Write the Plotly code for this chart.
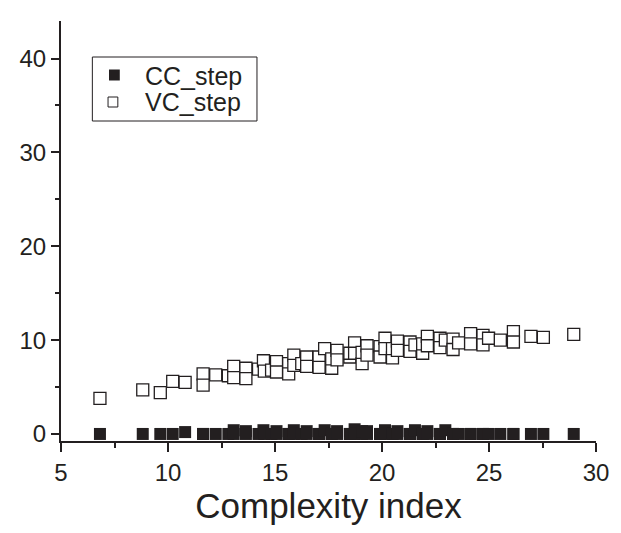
import plotly.graph_objects as go

# VC_step data (complexity index, value)
vc_x = [6.82, 8.82, 9.64, 10.22, 10.80, 11.64, 11.64, 12.23, 12.82, 13.07, 13.07,
        13.64, 13.64, 14.23, 14.46, 14.50, 14.84, 15.07, 15.07, 15.64, 15.64,
        15.88, 15.88, 16.25, 16.48, 16.48, 17.06, 17.06, 17.32, 17.65, 17.65,
        17.90, 17.90, 18.50, 18.50, 18.72, 18.72, 19.07, 19.07, 19.30, 19.30,
        19.91, 19.91, 20.14, 20.14, 20.49, 20.49, 20.72, 20.72, 21.31, 21.31,
        21.54, 21.90, 21.90, 22.12, 22.12, 22.71, 22.71, 22.96, 23.32, 23.32,
        23.58, 24.14, 24.14, 24.72, 24.72, 24.98, 25.53, 26.14, 26.14, 26.96,
        27.54, 28.96]
vc_y = [3.8, 4.7, 4.4, 5.6, 5.5, 6.4, 5.2, 6.3, 6.2, 7.2, 6.0,
        7.0, 5.9, 6.9, 7.8, 6.7, 6.8, 7.7, 6.6, 7.5, 6.4,
        8.4, 7.3, 7.5, 8.2, 7.2, 8.2, 7.1, 9.1, 7.0, 8.0,
        8.9, 7.9, 8.2, 8.6, 9.7, 8.6, 7.5, 8.7, 9.4, 8.4,
        9.3, 8.2, 10.2, 9.1, 8.1, 9.1, 9.9, 8.9, 9.8, 8.8,
        9.5, 8.6, 9.6, 10.4, 9.4, 10.2, 9.2, 10.0, 10.1, 9.0,
        9.7, 10.7, 9.6, 10.5, 9.5, 10.2, 10.0, 10.9, 9.8, 10.4,
        10.3, 10.6]

# CC_step data (complexity index, value)
cc_x = vc_x
cc_y = [0.0, 0.0, 0.0, 0.0, 0.2, 0.0, 0.0, 0.0, 0.0, 0.4, 0.0,
        0.3, 0.0, 0.0, 0.4, 0.0, 0.0, 0.3, 0.0, 0.0, 0.0,
        0.4, 0.0, 0.0, 0.3, 0.0, 0.0, 0.0, 0.4, 0.0, 0.0,
        0.3, 0.0, 0.0, 0.0, 0.5, 0.0, 0.0, 0.3, 0.3, 0.0,
        0.0, 0.0, 0.4, 0.0, 0.0, 0.0, 0.3, 0.0, 0.0, 0.0,
        0.4, 0.0, 0.0, 0.3, 0.0, 0.0, 0.0, 0.4, 0.0, 0.0,
        0.0, 0.0, 0.0, 0.0, 0.0, 0.0, 0.0, 0.0, 0.0, 0.0,
        0.0, 0.0]

series_names = ["CC_step", "VC_step"]
x_ticks = [5, 10, 15, 20, 25, 30]
y_ticks = [0, 10, 20, 30, 40]

ink = "#231f20"
font_family = "Liberation Sans, Arial, sans-serif"

W, H = 621, 533
ML, MR, MT, MB = 61, 14, 21, 92
PW, PH = W - ML - MR, H - MT - MB


def px(xp):
    return (xp - ML) / PW


def py(yp):
    return (H - MB - yp) / PH


fig = go.Figure()
fig.add_trace(go.Scatter(
    x=cc_x, y=cc_y, mode="markers", name=series_names[0], showlegend=False,
    marker=dict(symbol="square", size=12, color=ink, line=dict(width=0))))
fig.add_trace(go.Scatter(
    x=vc_x, y=vc_y, mode="markers", name=series_names[1], showlegend=False,
    marker=dict(symbol="square", size=12, color="white", line=dict(width=1.3, color=ink))))

# Legend drawn as a framed box with sample markers and real text labels
shapes = [
    dict(type="rect", xref="paper", yref="paper",
         x0=px(93), x1=px(261), y0=py(121), y1=py(57),
         line=dict(color=ink, width=1), fillcolor="white", layer="above"),
    dict(type="rect", xref="paper", yref="paper",
         x0=px(110), x1=px(121), y0=py(80.5), y1=py(69.5),
         line=dict(width=0), fillcolor=ink, layer="above"),
    dict(type="rect", xref="paper", yref="paper",
         x0=px(109), x1=px(119), y0=py(107), y1=py(97),
         line=dict(color=ink, width=1), fillcolor="white", layer="above"),
]
annotations = [
    dict(text=series_names[0], xref="paper", yref="paper", x=px(145), y=py(76),
         xanchor="left", yanchor="middle", showarrow=False,
         font=dict(size=25, color=ink, family=font_family)),
    dict(text=series_names[1], xref="paper", yref="paper", x=px(145), y=py(102),
         xanchor="left", yanchor="middle", showarrow=False,
         font=dict(size=25, color=ink, family=font_family)),
]

fig.update_layout(
    width=W, height=H,
    margin=dict(l=ML, r=MR, t=MT, b=MB),
    paper_bgcolor="white", plot_bgcolor="white",
    font=dict(family=font_family, color=ink, size=24),
    showlegend=False,
    shapes=shapes, annotations=annotations,
    xaxis=dict(range=[5, 30], tickvals=x_ticks, ticktext=[str(v) for v in x_ticks],
               showgrid=False, zeroline=False, showline=True, linecolor=ink, linewidth=2,
               ticks="outside", ticklen=9, tickwidth=1.5, tickcolor=ink,
               minor=dict(dtick=2.5, tick0=5, ticks="outside", ticklen=5, tickwidth=1.5,
                          tickcolor=ink, showgrid=False),
               tickfont=dict(size=24),
               title=dict(text="Complexity index", font=dict(size=35), standoff=1)),
    yaxis=dict(range=[-0.75, 44], tickvals=y_ticks, ticktext=[str(v) for v in y_ticks],
               showgrid=False, zeroline=False, showline=True, linecolor=ink, linewidth=2,
               ticks="outside", ticklen=8, tickwidth=1.5, tickcolor=ink,
               minor=dict(dtick=5, tick0=0, ticks="outside", ticklen=4, tickwidth=1.5,
                          tickcolor=ink, showgrid=False),
               tickfont=dict(size=24)),
)

fig.write_html("out.html")
